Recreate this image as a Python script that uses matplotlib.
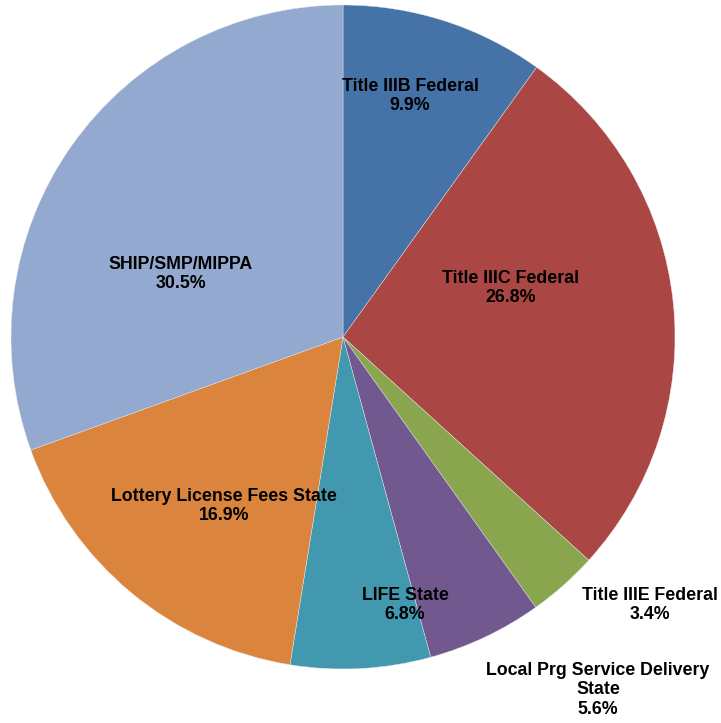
import matplotlib
matplotlib.use("Agg")
import matplotlib.pyplot as plt

labels = ["Title IIIB Federal", "Title IIIC Federal", "Title IIIE Federal",
          "Local Prg Service Delivery\nState", "LIFE State",
          "Lottery License Fees State", "SHIP/SMP/MIPPA"]
values = [9.9, 26.8, 3.4, 5.6, 6.8, 16.9, 30.5]
colors = ["#4572A7", "#AA4643", "#89A54E", "#71588F", "#4198AF", "#DB843D", "#93A9CF"]
# label centres in pixel coords of the reference image
label_px = [(410, 96), (511, 288), (650, 605), (598, 690), (405, 605), (224, 506), (181, 274)]

W, H = 721, 723
cx, cy, r = 343, 337, 332

fig = plt.figure(figsize=(W / 100, H / 100), dpi=100)
ax = fig.add_axes([0, 0, 1, 1])
ax.pie(values, colors=colors, startangle=90, counterclock=False, radius=1,
       wedgeprops=dict(linewidth=0.3, edgecolor="#e8e8e8"))
ax.set_xlim(-cx / r, (W - cx) / r)
ax.set_ylim(-(H - cy) / r, cy / r)
ax.set_aspect("equal")
ax.axis("off")

for lab, v, (px, py) in zip(labels, values, label_px):
    ax.text((px - cx) / r, (cy - py) / r, f"{lab}\n{v:.1f}%", ha="center", va="center",
            fontsize=12.8, fontweight="bold", family="Liberation Sans", linespacing=1.18)

fig.savefig("out.png", dpi=100)
